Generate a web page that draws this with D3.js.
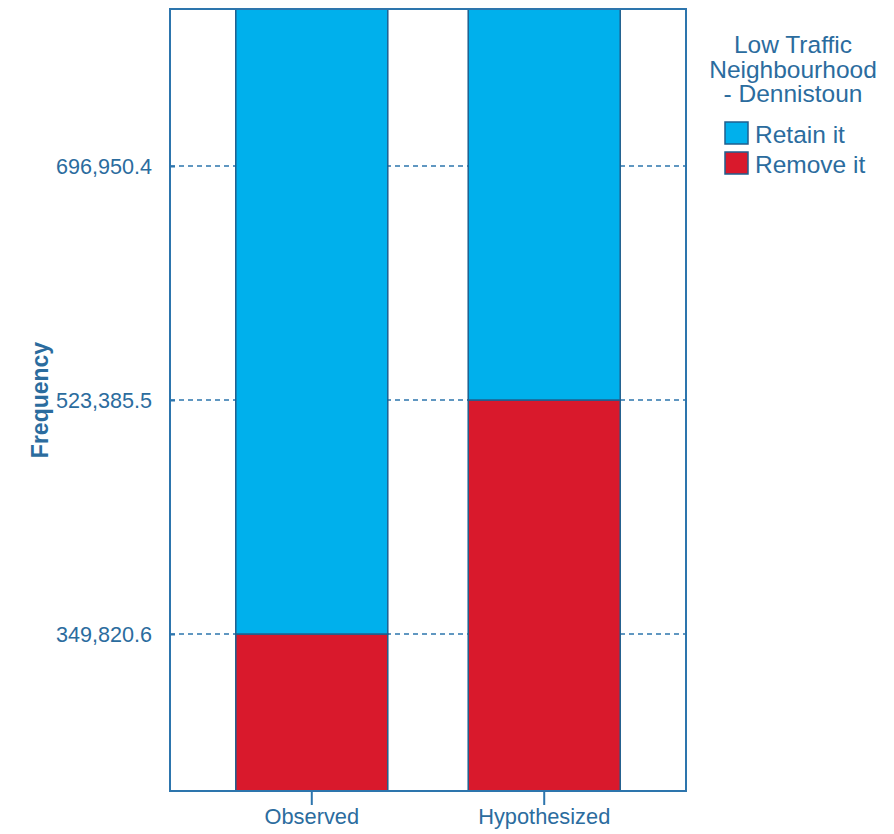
<!DOCTYPE html>
<html>
<head>
<meta charset="utf-8">
<script src="https://cdn.jsdelivr.net/npm/d3@7"></script>
<style>
  html, body { margin: 0; padding: 0; background: #fff; }
  svg { display: block; font-family: "Liberation Sans", Arial, sans-serif; }
</style>
</head>
<body>
<svg id="chart" width="894" height="834"></svg>
<script>
// ---- data ----
const categories = ["Observed", "Hypothesized"];
const seriesNames = ["Remove it", "Retain it"];
const removeValues = [349820.6, 523385.5];
const retainValues = [696950.4, 523385.5];
const tickValues = [349820.6, 523385.5, 696950.4];
const legendTitle = ["Low Traffic", "Neighbourhood", "- Dennistoun"];
const legendItems = ["Retain it", "Remove it"];
const yAxisTitle = "Frequency";
const yDomain = [233370, 813401];

// ---- styles ----
const colBlue = "#00b0ec";
const colRed = "#d9192c";
const colText = "#2b6c9e";
const colLine = "#2d75ad";
const colBarStroke = "#1f5f8e";

const svg = d3.select("#chart");
const plot = { left: 170, right: 686, top: 9, bottom: 791 };

const x = d3.scaleBand().domain(categories).range([plot.left, plot.right])
  .paddingInner(0.346).paddingOuter(0.283);
const y = d3.scaleLinear().domain(yDomain).range([plot.bottom, plot.top]);

svg.append("defs").append("clipPath").attr("id", "clip")
  .append("rect").attr("x", plot.left).attr("y", plot.top)
  .attr("width", plot.right - plot.left).attr("height", plot.bottom - plot.top);

// gridlines
svg.append("g").selectAll("line").data(tickValues).join("line")
  .attr("x1", plot.left).attr("x2", plot.right)
  .attr("y1", d => y(d)).attr("y2", d => y(d))
  .attr("stroke", colLine).attr("stroke-width", 1.5)
  .attr("stroke-dasharray", "5,4");

// stacked bars
const rows = categories.map((c, i) => ({ cat: c, "Remove it": removeValues[i], "Retain it": retainValues[i] }));
const stack = d3.stack().keys(seriesNames)(rows);
const colorOf = { "Remove it": colRed, "Retain it": colBlue };

const barsG = svg.append("g").attr("clip-path", "url(#clip)");
stack.forEach(layer => {
  barsG.append("g").selectAll("rect").data(layer).join("rect")
    .attr("x", d => x(d.data.cat))
    .attr("width", x.bandwidth())
    .attr("y", d => y(d[1]))
    .attr("height", d => y(d[0]) - y(d[1]))
    .attr("fill", colorOf[layer.key])
    .attr("stroke", colBarStroke).attr("stroke-width", 1.5);
});

// frame
svg.append("rect").attr("x", plot.left).attr("y", plot.top)
  .attr("width", plot.right - plot.left).attr("height", plot.bottom - plot.top)
  .attr("fill", "none").attr("stroke", colLine).attr("stroke-width", 2);

// y axis
const yAxis = svg.append("g").attr("transform", `translate(${plot.left},0)`)
  .call(d3.axisLeft(y).tickValues(tickValues).tickSize(17).tickPadding(1)
    .tickFormat(d3.format(",.1f")));
yAxis.select(".domain").remove();
yAxis.selectAll(".tick line").attr("stroke", colLine).attr("stroke-width", 2).attr("x2", 5);
yAxis.selectAll(".tick text").attr("fill", colText)
  .style("font-size", "21.6px").attr("dy", "0.35em");

// x axis
const xAxis = svg.append("g").attr("transform", `translate(0,${plot.bottom})`)
  .call(d3.axisBottom(x).tickSize(14).tickPadding(4));
xAxis.select(".domain").remove();
xAxis.selectAll(".tick line").attr("stroke", colLine).attr("stroke-width", 2);
xAxis.selectAll(".tick text").attr("fill", colText).style("font-size", "21.8px");

// y axis title
svg.append("text")
  .attr("transform", `translate(48,400) rotate(-90)`)
  .attr("text-anchor", "middle")
  .attr("fill", colText).style("font-size", "23px").style("font-weight", "bold")
  .text(yAxisTitle);

// legend
const lg = svg.append("g");
lg.selectAll("text.title").data(legendTitle).join("text")
  .attr("class", "title")
  .attr("x", 793).attr("y", (d, i) => 53 + i * 24.5)
  .attr("text-anchor", "middle").attr("fill", colText)
  .style("font-size", "24.5px").text(d => d);

const legendColors = [colBlue, colRed];
const items = lg.selectAll("g.item").data(legendItems).join("g").attr("class", "item")
  .attr("transform", (d, i) => `translate(725,${122 + i * 30})`);
items.append("rect").attr("width", 23).attr("height", 22)
  .attr("fill", (d, i) => legendColors[i])
  .attr("stroke", colBarStroke).attr("stroke-width", 1.5);
items.append("text").attr("x", 30).attr("y", 21)
  .attr("fill", colText).style("font-size", "24.5px").text(d => d);
</script>
</body>
</html>
